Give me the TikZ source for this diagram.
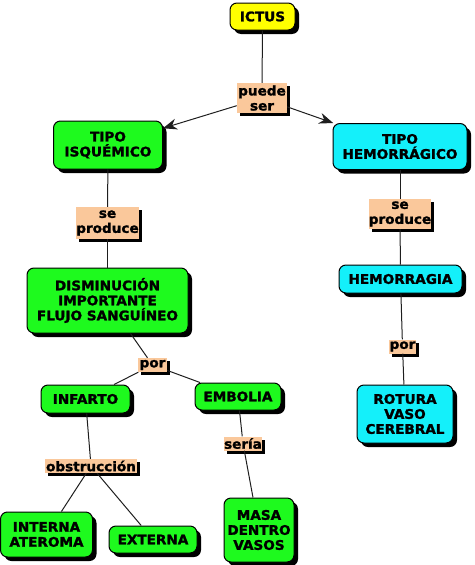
\documentclass[tikz,border=0pt]{standalone}
\usepackage{fontspec}
\setmainfont{DejaVu Sans}[FakeStretch=1.03,FakeBold=1.6]
\usetikzlibrary{arrows.meta,shadows}
\definecolor{cgreen}{RGB}{30,250,30}
\definecolor{ccyan}{RGB}{20,240,250}
\definecolor{cyellow}{RGB}{255,255,0}
\definecolor{cpeach}{RGB}{250,200,155}
\definecolor{cline}{RGB}{30,30,30}
\tikzset{
  box/.style={draw=black, line width=1pt, rounded corners=7pt, inner sep=0pt, align=center,
    font=\fontsize{13.2}{15}\selectfont\bfseries,
    drop shadow={shadow xshift=4pt, shadow yshift=-4pt, fill=black, opacity=1}},
  gbox/.style={box, fill=cgreen},
  cbox/.style={box, fill=ccyan},
  ybox/.style={box, fill=cyellow},
  lbl/.style={fill=cpeach, inner sep=0pt, align=center,
    font=\fontsize{13.2}{15}\selectfont\bfseries,
    drop shadow={shadow xshift=3pt, shadow yshift=-3pt, fill=black, opacity=1}},
  conn/.style={draw=cline, line width=1pt},
  arr/.style={conn, -{Stealth[length=14pt,width=11pt]}}
}
\begin{document}
\begin{tikzpicture}[x=1pt,y=-1pt]
\useasboundingbox (0,0) rectangle (474,565);
% boxes
\node[ybox, minimum width=65pt, minimum height=27pt] (ictus) at (262.5,16.5) {ICTUS};
\node[lbl, minimum width=50pt, minimum height=30pt] (puede) at (262,98) {puede\\ser};
\node[gbox, minimum width=109pt, minimum height=48pt] (isq) at (108,145) {TIPO\\ISQUÉMICO};
\node[cbox, minimum width=134pt, minimum height=46pt] (hem) at (400,146.5) {TIPO\\HEMORRÁGICO};
\node[lbl, minimum width=63pt, minimum height=32pt] (sp1) at (107.5,223) {se\\produce};
\node[lbl, minimum width=62pt, minimum height=30pt] (sp2) at (400,214) {se\\produce};
\node[gbox, minimum width=161pt, minimum height=65pt] (dism) at (107.5,300.5) {DISMINUCIÓN\\IMPORTANTE\\FLUJO SANGUÍNEO};
\node[cbox, minimum width=123pt, minimum height=28pt] (hemo) at (400.5,279) {HEMORRAGIA};
\node[lbl, minimum width=29pt, minimum height=14pt] (por1) at (152.5,365) {por};
\node[lbl, minimum width=27pt, minimum height=14pt] (por2) at (402.5,346.5) {por};
\node[gbox, minimum width=89pt, minimum height=28pt] (inf) at (85.5,399) {INFARTO};
\node[gbox, minimum width=86pt, minimum height=27pt] (emb) at (238,396.5) {EMBOLIA};
\node[cbox, minimum width=96pt, minimum height=58pt] (rot) at (405,414) {ROTURA\\VASO\\CEREBRAL};
\node[lbl, minimum width=92pt, minimum height=14pt] (obs) at (91,466) {obstrucción};
\node[lbl, minimum width=38pt, minimum height=14pt] (seria) at (243,443.5) {sería};
\node[gbox, minimum width=92pt, minimum height=45pt] (int) at (46.5,534.5) {INTERNA\\ATEROMA};
\node[gbox, minimum width=88pt, minimum height=27pt] (ext) at (153,539.5) {EXTERNA};
\node[gbox, minimum width=70pt, minimum height=64pt] (masa) at (259,530) {MASA\\DENTRO\\VASOS};
% connectors
\draw[conn] (ictus) -- (puede);
\draw[arr] (puede) -- (isq);
\draw[arr] (puede) -- (hem);
\draw[conn] (isq) -- (sp1);
\draw[conn] (sp1) -- (dism);
\draw[conn] (dism) -- (por1);
\draw[conn] (por1) -- (inf);
\draw[conn] (por1) -- (emb);
\draw[conn] (inf) -- (obs);
\draw[conn] (obs) -- (int);
\draw[conn] (obs) -- (ext);
\draw[conn] (emb) -- (seria);
\draw[conn] (seria) -- (masa);
\draw[conn] (hem) -- (sp2);
\draw[conn] (sp2) -- (hemo);
\draw[conn] (hemo) -- (por2);
\draw[conn] (por2) -- (rot);
\end{tikzpicture}
\end{document}
